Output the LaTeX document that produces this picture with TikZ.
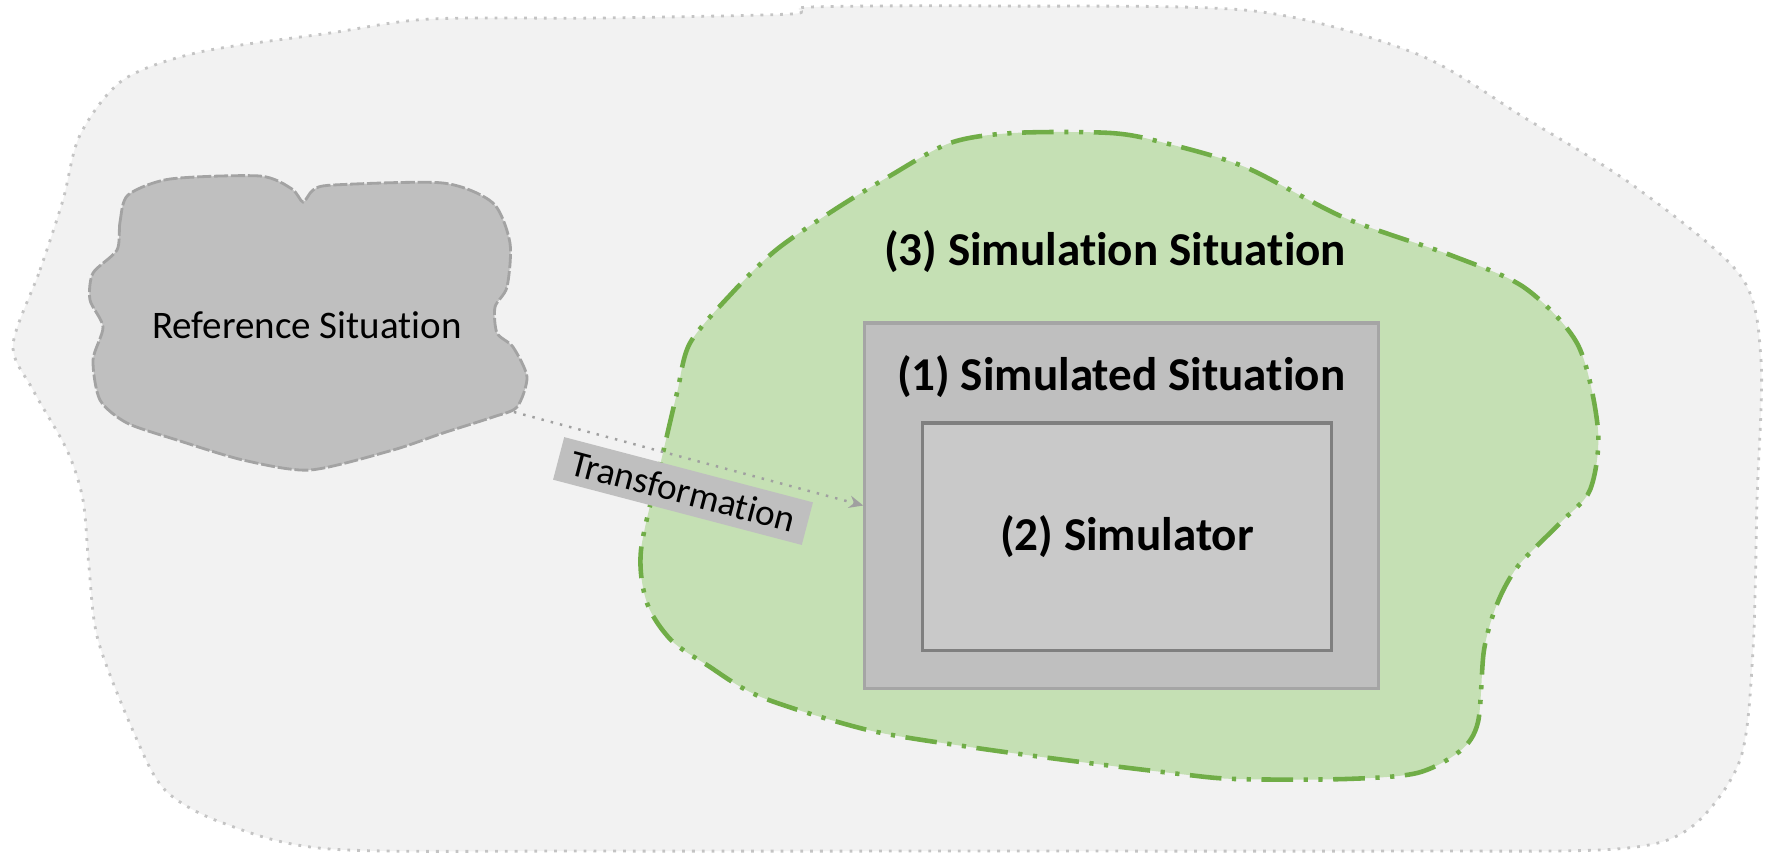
\documentclass[tikz,border=0pt]{standalone}
\usepackage{fontspec}
\setmainfont[Ligatures=NoCommon]{Carlito}
\usetikzlibrary{arrows.meta}
\definecolor{outerfill}{HTML}{F2F2F2}
\definecolor{outerline}{HTML}{C4C4C4}
\definecolor{reffill}{HTML}{BFBFBF}
\definecolor{refline}{HTML}{A3A3A3}
\definecolor{greenfill}{HTML}{C5E0B4}
\definecolor{greenline}{HTML}{70AD47}
\definecolor{boxfill}{HTML}{BFBFBF}
\definecolor{boxline}{HTML}{A5A5A5}
\definecolor{innerfill}{HTML}{C9C9C9}
\definecolor{innerline}{HTML}{7F7F7F}
\definecolor{arrowgray}{HTML}{A0A0A0}
\begin{document}
\begin{tikzpicture}[x=0.01cm,y=-0.01cm,
  outerblob/.style={fill=outerfill,draw=outerline,line width=0.8pt,dotted},
  refblob/.style={fill=reffill,draw=refline,line width=0.8pt,dash pattern=on 4pt off 0.8pt},
  greenblob/.style={fill=greenfill,draw=greenline,line width=1.3pt,
    dash pattern=on 9pt off 3pt on 1.2pt off 3pt on 1.2pt off 3pt},
  simbox/.style={rectangle,fill=boxfill,draw=boxline,line width=0.9pt,inner sep=0pt},
  innerbox/.style={rectangle,fill=innerfill,draw=innerline,line width=0.9pt,inner sep=0pt,
    font=\fontsize{13.4}{16}\selectfont\bfseries},
  boldlabel/.style={font=\fontsize{13.4}{16}\selectfont\bfseries,inner sep=0pt},
  plainlabel/.style={font=\fontsize{11.1}{13}\selectfont,inner sep=0pt},
  translabel/.style={rectangle,fill=boxfill,inner sep=0pt,minimum width=2.57cm,minimum height=0.44cm,
    font=\fontsize{10.6}{12}\selectfont},
  transarrow/.style={draw=arrowgray,line width=0.7pt,dotted,-{Stealth[length=4pt,width=3.5pt]}}
]
\useasboundingbox (0,0) rectangle (1767,853);

% outer light region
\draw[outerblob] plot[smooth cycle,tension=0.5] coordinates {
 (13,345) (40,270) (63,200) (80,135) (123,80) (200,52) (330,33) (430,19) (600,18)
 (790,14) (810,7) (1000,6) (1254,11) (1417,54) (1525,118) (1634,186) (1740,275)
 (1761,360) (1757,500) (1753,650) (1740,760) (1690,828) (1616,849) (1400,851)
 (1000,851) (600,851) (330,849) (223,823) (165,790) (134,733) (98,640) (89,567)
 (83,500) (67,450) (33,390)};

% reference situation blob
\draw[refblob] plot[smooth cycle,tension=0.45] coordinates {
 (117,250) (120,222) (128,195) (170,179) (260,176) (292,189) (303,202) (313,190)
 (333,185) (443,183) (493,203) (510,243) (507,287) (495,307) (497,333) (513,347)
 (527,377) (517,407) (493,417) (443,433) (393,450) (310,470) (243,460) (177,440)
 (127,423) (100,400) (93,360) (103,327) (90,300) (93,273)};
\node[plainlabel] (ref) at (307,325) {Reference Situation};
\coordinate (refout) at (514,412);

% simulation situation blob
\draw[greenblob] plot[smooth cycle,tension=0.5] coordinates {
 (1013,133) (1111,133) (1165,143) (1245,167) (1345,218) (1453,256) (1525,288)
 (1578,345) (1598,430) (1590,490) (1560,523) (1518,566) (1497,604) (1484,650)
 (1478,722) (1460,751) (1417,773) (1345,779) (1236,779) (1180,774) (1073,761)
 (970,747) (868,730) (761,697) (707,665) (671,640) (647,603) (641,550) (662,457)
 (677,393) (690,343) (732,293) (776,250) (834,210) (888,177) (950,143)};
\node[boldlabel] (simulation) at (1115,252) {(3) Simulation Situation};

% simulated situation and simulator
\node[simbox,minimum width=5.13cm,minimum height=3.65cm] (simsit) at (1121.5,505.5) {};
\node[boldlabel] (simsitlabel) at (1121,377) {(1) Simulated Situation};
\node[innerbox,minimum width=4.08cm,minimum height=2.27cm] (simulator) at (1127,536.5) {(2) Simulator};

% transformation
\draw[transarrow] (refout) -- (simsit.west);
\node[translabel,rotate=-14.7] (trans) at (683,491) {Transformation};
\end{tikzpicture}
\end{document}
